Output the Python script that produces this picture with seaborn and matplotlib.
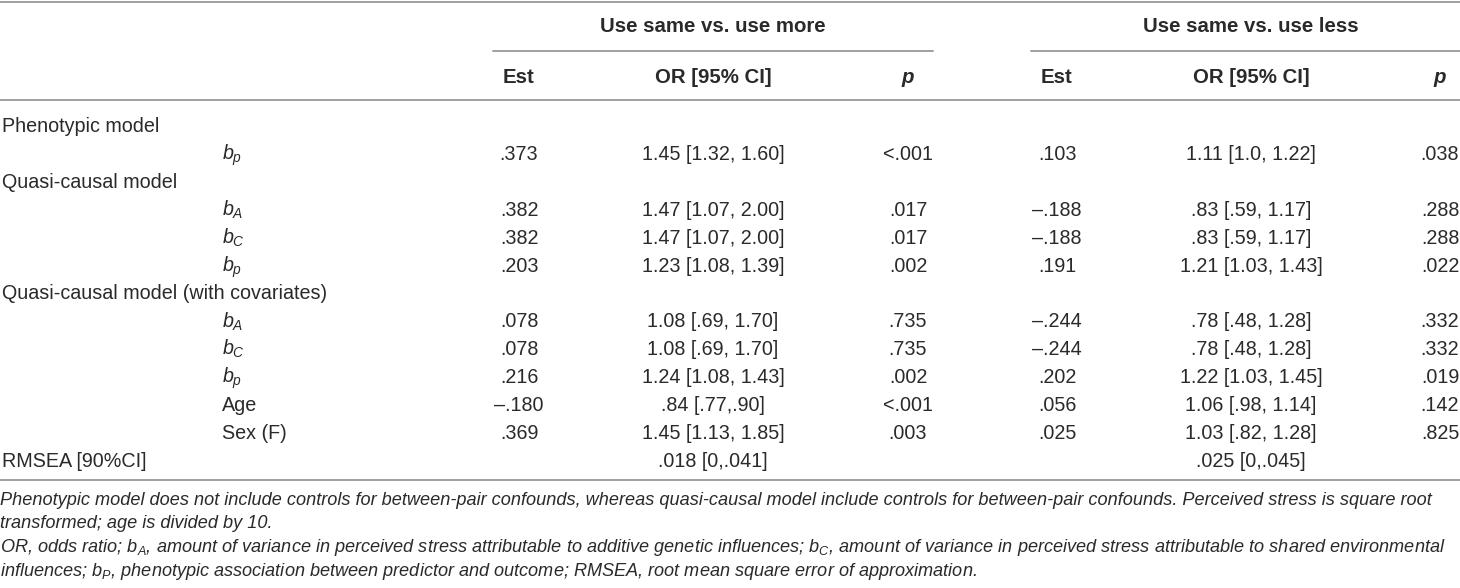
import matplotlib
matplotlib.use("Agg")
import matplotlib.pyplot as plt
import seaborn as sns

# ---- data ----
group_titles = ["Use same vs. use more", "Use same vs. use less"]
col_headers = ["Est", "OR [95% CI]", "p"]
row_labels = ["Phenotypic model", r"$b_p$", "Quasi-causal model", r"$b_A$", r"$b_C$", r"$b_p$",
              "Quasi-causal model (with covariates)", r"$b_A$", r"$b_C$", r"$b_p$", "Age", "Sex (F)",
              "RMSEA [90%CI]"]
row_is_sub = [False, True, False, True, True, True, False, True, True, True, True, True, False]
est_more = ["", ".373", "", ".382", ".382", ".203", "", ".078", ".078", ".216", "\u2013.180", ".369", ""]
or_more = ["", "1.45 [1.32, 1.60]", "", "1.47 [1.07, 2.00]", "1.47 [1.07, 2.00]", "1.23 [1.08, 1.39]", "",
           "1.08 [.69, 1.70]", "1.08 [.69, 1.70]", "1.24 [1.08, 1.43]", ".84 [.77,.90]", "1.45 [1.13, 1.85]",
           ".018 [0,.041]"]
p_more = ["", "<.001", "", ".017", ".017", ".002", "", ".735", ".735", ".002", "<.001", ".003", ""]
est_less = ["", ".103", "", "\u2013.188", "\u2013.188", ".191", "", "\u2013.244", "\u2013.244", ".202", ".056", ".025", ""]
or_less = ["", "1.11 [1.0, 1.22]", "", ".83 [.59, 1.17]", ".83 [.59, 1.17]", "1.21 [1.03, 1.43]", "",
           ".78 [.48, 1.28]", ".78 [.48, 1.28]", "1.22 [1.03, 1.45]", "1.06 [.98, 1.14]", "1.03 [.82, 1.28]",
           ".025 [0,.045]"]
p_less = ["", ".038", "", ".288", ".288", ".022", "", ".332", ".332", ".019", ".142", ".825", ""]
footnotes = [
    "Phenotypic model does not include controls for between-pair confounds, whereas quasi-causal model include controls for between-pair confounds. Perceived stress is square root",
    "transformed; age is divided by 10.",
    r"OR, odds ratio; $b_A$, amount of variance in perceived stress attributable to additive genetic influences; $b_C$, amount of variance in perceived stress attributable to shared environmental",
    r"influences; $b_P$, phenotypic association between predictor and outcome; RMSEA, root mean square error of approximation.",
]

# ---- style ----
sns.set_theme(style="white")
plt.rcParams['font.family'] = ['Liberation Sans', 'DejaVu Sans']
plt.rcParams['mathtext.fontset'] = 'custom'
plt.rcParams['mathtext.rm'] = 'Liberation Sans'
plt.rcParams['mathtext.it'] = 'Liberation Sans:italic'
plt.rcParams['mathtext.bf'] = 'Liberation Sans:bold'

W, H = 1460, 588
fig = plt.figure(figsize=(W / 100, H / 100), dpi=100)
ax = fig.add_axes([0, 0, 1, 1])
ax.set_xlim(0, W)
ax.set_ylim(H, 0)
ax.axis("off")

txt = "#2a2a2a"
line_c = "#a0a0a0"
fs = 14.2
fs_head = 14.7
fs_note = 13.05

# layout
x_label, x_sub = 2, 222
cols1 = [519, 713, 908]
cols2 = [1057, 1251, 1440]
row_y0, row_dy = 126, 27.9
base_off = 6
note_y0, note_dy = 500, 23.5

# rules
lw = 1.4
ax.plot([0, W], [1.5, 1.5], color=line_c, lw=lw)
ax.plot([493, 933], [51, 51], color=line_c, lw=lw)
ax.plot([1031, W], [51, 51], color=line_c, lw=lw)
ax.plot([0, W], [100, 100], color=line_c, lw=lw)
ax.plot([0, W], [480, 480], color=line_c, lw=lw)

# group titles
for title, cols in zip(group_titles, [cols1, cols2]):
    ax.text(cols[1], 26 + base_off, title, ha="center", va="baseline",
            fontsize=fs_head, fontweight="bold", color=txt)
# column headers
for cols in [cols1, cols2]:
    for h, x in zip(col_headers, cols):
        style = "italic" if h == "p" else "normal"
        ax.text(x, 77 + base_off, h, ha="center", va="baseline", fontsize=fs_head, fontweight="bold",
                fontstyle=style, color=txt)

# body
for i, lab in enumerate(row_labels):
    y = row_y0 + i * row_dy + base_off
    ax.text(x_sub if row_is_sub[i] else x_label, y, lab, ha="left", va="baseline", fontsize=fs, color=txt)
    for vals, x in zip([est_more, or_more, p_more, est_less, or_less, p_less], cols1 + cols2):
        if vals[i]:
            ax.text(x, y, vals[i], ha="center", va="baseline", fontsize=fs, color=txt)

# footnotes
for j, note in enumerate(footnotes):
    ax.text(0, note_y0 + j * note_dy + 5, note, ha="left", va="baseline", fontsize=fs_note,
            fontstyle="italic", color=txt)

fig.savefig("out.png", dpi=100)
